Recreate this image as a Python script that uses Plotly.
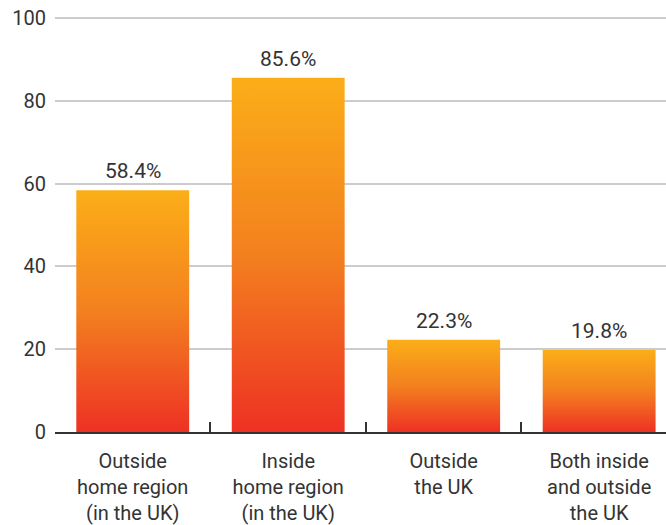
"""Share of respondents by location, gradient bar chart."""

import plotly.graph_objects as go

CATEGORIES = [
    "Outside<br>home region<br>(in the UK)",
    "Inside<br>home region<br>(in the UK)",
    "Outside<br>the UK",
    "Both inside<br>and outside<br>the UK",
]
VALUES = [58.4, 85.6, 22.3, 19.8]
Y_TICKS = [0, 20, 40, 60, 80, 100]

FONT = "Roboto, Arial, sans-serif"
TEXT_COLOR = "#333333"
BAR_HALF_WIDTH = 0.363
GRADIENT = [[0, "#EE3124"], [0.5, "#F3801F"], [1, "#FBAE18"]]

fig = go.Figure()

for i, value in enumerate(VALUES):
    left, right = i - BAR_HALF_WIDTH, i + BAR_HALF_WIDTH
    fig.add_trace(
        go.Scatter(
            x=[left, left, right, right, left],
            y=[0, value, value, 0, 0],
            mode="lines",
            line={"width": 0},
            fill="toself",
            fillgradient={"type": "vertical", "colorscale": GRADIENT},
            hoverinfo="skip",
            showlegend=False,
        )
    )
    fig.add_annotation(
        x=i,
        y=value,
        text=f"{value:.1f}%",
        showarrow=False,
        yanchor="bottom",
        yshift=5,
        font={"family": FONT, "size": 21, "color": TEXT_COLOR},
    )

fig.update_layout(
    width=666,
    height=525,
    margin={"l": 55, "r": 0, "t": 16, "b": 93},
    paper_bgcolor="white",
    plot_bgcolor="white",
    font={"family": FONT, "color": TEXT_COLOR},
)
fig.update_xaxes(
    range=[-0.5, 3.43],
    tickmode="array",
    tickvals=list(range(len(CATEGORIES))),
    ticktext=CATEGORIES,
    ticks="",
    tickfont={"size": 20, "color": TEXT_COLOR},
    ticklabelstandoff=10,
    automargin=False,
    showgrid=False,
    zeroline=False,
    showline=True,
    linecolor="#333333",
    linewidth=2,
    minor={
        "tickmode": "array",
        "tickvals": [0.5, 1.5, 2.5],
        "ticks": "inside",
        "ticklen": 10,
        "tickwidth": 2,
        "tickcolor": "#333333",
        "showgrid": False,
    },
)
fig.update_yaxes(
    range=[0, 100.5],
    tickmode="array",
    tickvals=Y_TICKS,
    ticks="",
    tickfont={"size": 20, "color": TEXT_COLOR},
    ticklabelstandoff=8,
    automargin=False,
    showgrid=True,
    gridcolor="#CCCCCC",
    gridwidth=1.5,
    zeroline=False,
    showline=False,
)

fig.write_html(
    "out.html",
    config={"displayModeBar": False},
    post_script="document.body.style.margin = '0';",
)
